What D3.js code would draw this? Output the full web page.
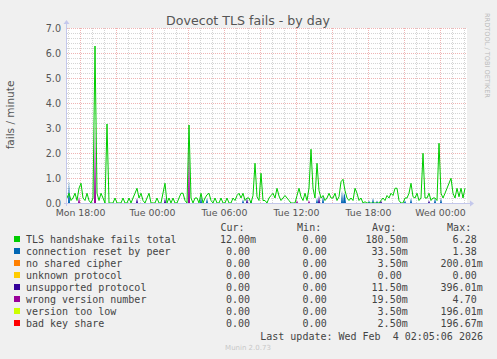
<!DOCTYPE html>
<html><head><meta charset="utf-8">
<script src="https://cdn.jsdelivr.net/npm/d3@7"></script>
<style>body{margin:0;background:#f0f0f0;overflow:hidden}</style>
</head><body><svg id="c" width="497" height="359"></svg>
<script>
const title = "Dovecot TLS fails - by day";
const yLabel = "fails / minute";
const xTickLabels = ["Mon 18:00","Tue 00:00","Tue 06:00","Tue 12:00","Tue 18:00","Wed 00:00"];
const yTickValues = [0,1,2,3,4,5,6,7];
const seriesNames = ["TLS handshake fails total","connection reset by peer","no shared cipher","unknown protocol","unsupported protocol","wrong version number","version too low","bad key share"];
const seriesColors = ["#00cc00","#0066b3","#ff8000","#ffcc00","#330099","#990099","#ccff00","#ff0000"];
const curVals = ["12.00m","0.00","0.00","0.00","0.00","0.00","0.00","0.00"];
const minVals = ["0.00","0.00","0.00","0.00","0.00","0.00","0.00","0.00"];
const avgVals = ["180.50m","33.50m","3.50m","0.00","11.50m","19.50m","3.50m","2.50m"];
const maxVals = ["6.28","1.38","200.01m","0.00","396.01m","4.70","196.01m","196.67m"];
const lastUpdate = "Last update: Wed Feb  4 02:05:06 2026";
const footer = "Munin 2.0.73";
const sideText = "RRDTOOL / TOBI OETIKER";

// TLS handshake fails total, 10-minute samples from Mon 16:55 UTC
const totalVals = [
0.2,0.39,0.1,0.2,0.39,0.1,0.59,0.79,0.2,0.1,
0.39,0.1,0,0.2,6.28,0.39,0.1,0.39,0.2,0,
3.16,0,0,0,0.2,0,0,0,0.2,0,
0,0.2,0,0.2,0.39,0.59,0.2,0.39,0.1,0,
0.2,0.39,0,0,0,0.2,0,0,0.4,0.79,
0,0.2,0,0.2,0,0,0.2,0.39,0.39,0.1,
0,3.12,0.2,0,0.2,0.2,0,0.39,0,0.2,
0.33,0.39,0.1,0,0.2,0,0,0.2,0,0,
0.2,0,0,0.2,0.1,0.3,0.39,0.2,0.39,0.1,
0.2,0.2,0,0.3,1.59,0.25,0.1,1.19,0.1,0.1,
0,0.2,0.3,0.39,0.2,0.59,0.28,0.1,0.2,0.3,
0.2,0.1,0,0,0,0.3,0.59,0.25,0.1,0.39,
0.1,0.6,2.15,0.59,0.2,1.59,0.5,0.2,0.3,0.1,
0.2,0.39,0.2,0.2,0.39,0.1,0.25,0.85,0.95,0.5,
0.2,0.1,0.2,0.1,0.59,0.39,0.1,0.2,0,0.05,
0,0,0,0,0,0,0,0.1,0.2,0.1,
0.3,0.2,0.39,0.3,0.59,0.59,0.1,0,0,0.2,
0.2,0.39,0.79,0.25,0.2,0.39,0.1,0.2,1.99,0.2,
0.2,0.39,0.1,0.2,0.2,0.1,2.39,0.39,0.2,0.39,
0.59,0.79,0.99,0.39,0.2,0.59,0.25,0.59,0.2,0.59];
// sub-series readings on the 5-minute grid: [sample index, value]
const resetPeaks = [[2,0.9],[134,0.3],[140,0.2],[176,0.15],[184,0.1],[250,0.2],[256,0.3],[275,0.5],[277,0.4],[278,0.3],[302,0.1],[306,0.2],[310,0.1],[338,0.1],[344,0.2],[368,0.2],[374,0.2]];
const unsupportedPeaks = [[70,0.2],[98,0.2],[180,0.2],[252,0.3],[314,0.1],[362,0.1]];
const wrongVersionPeaks = [[12,0.25],[28,3.2],[122,2.5],[230,0.1],[242,0.1]];

const svg = d3.select("#c");
const W = 497, H = 359;
const L = 67, R = 467, T = 28, B = 203;
const start = Date.UTC(2026,1,2,16,55);
const step5 = 5*60000;
const end = start + 400*step5;
const x = d3.scaleUtc().domain([start,end]).range([L,R]);
const y = d3.scaleLinear().domain([0,7]).range([B,T]);
const times = totalVals.map((d,i)=>new Date(start + i*2*step5));

svg.append("rect").attr("width",W).attr("height",H).attr("fill","#f0f0f0");
svg.append("rect").attr("x",L).attr("y",T).attr("width",R-L).attr("height",B-T).attr("fill","#ffffff");

// grid
const g = svg.append("g");
const hour = 3600000;
const minorC = "#d4d4d4", majorC = "#efb4b4";
d3.range(0, 7.01, 0.2).forEach(v=>{
  if (v < 0.01) return;
  const major = Math.abs(v - Math.round(v)) < 0.01;
  if (major) return;
  const yy = Math.round(y(v)) + 0.5;
  g.append("line").attr("x1",L).attr("x2",R).attr("y1",yy).attr("y2",yy).attr("stroke",minorC).attr("stroke-dasharray","1,1");
});
for (let t = Date.UTC(2026,1,2,17); t < end; t += hour) {
  if ((new Date(t)).getUTCHours() % 3 === 0) continue;
  const xx = Math.round(x(t)) + 0.5;
  g.append("line").attr("x1",xx).attr("x2",xx).attr("y1",T).attr("y2",B).attr("stroke",minorC).attr("stroke-dasharray","1,1");
}
for (let t = Date.UTC(2026,1,2,18); t < end; t += 3*hour) {
  const xx = Math.round(x(t)) + 0.5;
  g.append("line").attr("x1",xx).attr("x2",xx).attr("y1",T).attr("y2",B).attr("stroke",majorC).attr("stroke-dasharray","1,1");
}
yTickValues.slice(1).forEach(v=>{
  const yy = Math.round(y(v)) + 0.5;
  g.append("line").attr("x1",L).attr("x2",R).attr("y1",yy).attr("y2",yy).attr("stroke",majorC).attr("stroke-dasharray","1,1");
});

// stacked sub-series (5-minute samples)
function fill(peaks){ const a = d3.range(400).map(()=>0); peaks.forEach(([i,v])=>a[i]=v); return a; }
const reset = fill(resetPeaks), unsup = fill(unsupportedPeaks), wrong = fill(wrongVersionPeaks);
const table = d3.range(400).map(i=>({t:new Date(start + i*step5), reset:reset[i], unsup:unsup[i], wrong:wrong[i]}));
const stack = d3.stack().keys(["reset","unsup","wrong"])(table);
const stackColors = {reset:"#0066b3", unsup:"#330099", wrong:"#990099"};
const area = d3.area().x(d=>x(d.data.t)).y0(d=>y(d[0])).y1(d=>y(d[1]));
stack.forEach(s=>{
  svg.append("path").datum(s).attr("d",area).attr("fill",stackColors[s.key]).attr("stroke","none");
});

// total line
const line = d3.line().x((d,i)=>x(times[i])).y(d=>y(d));
svg.append("path").datum(totalVals).attr("d",line).attr("fill","none").attr("stroke","#00cc00").attr("stroke-width",1);

// axes lines with arrows
const axc = "#c4c8ec";
svg.append("line").attr("x1",L-3).attr("x2",R+3).attr("y1",B+0.5).attr("y2",B+0.5).attr("stroke",axc);
svg.append("path").attr("d",`M${R+3},${B-2.5} L${R+7},${B+0.5} L${R+3},${B+3.5} Z`).attr("fill",axc);
svg.append("line").attr("x1",L-0.5).attr("x2",L-0.5).attr("y1",B+3).attr("y2",T-4).attr("stroke",axc);
svg.append("path").attr("d",`M${L-3.5},${T-4} L${L-0.5},${T-8} L${L+2.5},${T-4} Z`).attr("fill",axc);

// y axis labels
const yAxis = d3.axisLeft(y).tickValues(yTickValues).tickFormat(d3.format(".1f")).tickSize(0).tickPadding(0);
const ya = svg.append("g").attr("transform",`translate(${L-6},0)`).call(yAxis);
ya.select(".domain").remove();
ya.selectAll("text").attr("font-family","DejaVu Sans").attr("font-size","9.6px").attr("fill","#555").attr("dy","0.35em");

// x axis labels
const xTicks = xTickLabels.map((s,i)=>new Date(Date.UTC(2026,1,2,18) + i*6*hour));
const xAxis = d3.axisBottom(x).tickValues(xTicks).tickFormat((d,i)=>xTickLabels[i]).tickSize(0).tickPadding(0);
const xa = svg.append("g").attr("transform",`translate(0,${B+13})`).call(xAxis);
xa.select(".domain").remove();
xa.selectAll("text").attr("font-family","DejaVu Sans").attr("font-size","9.4px").attr("fill","#555").attr("dy","0");

// title
svg.append("text").attr("x",248).attr("y",25).attr("text-anchor","middle")
  .attr("font-family","DejaVu Sans").attr("font-size","12.6px").attr("fill","#555").text(title);
// y label
svg.append("text").attr("transform","translate(14,115) rotate(-90)").attr("text-anchor","middle")
  .attr("font-family","DejaVu Sans").attr("font-size","10.5px").attr("fill","#555").text(yLabel);
// side text
svg.append("text").attr("transform","translate(485,13) rotate(90)").attr("text-anchor","start")
  .attr("font-family","DejaVu Sans").attr("font-size","6.6px").attr("fill","#bbb").text(sideText);

// legend
const mono = "DejaVu Sans Mono", fs = "10px", lc = "#444";
const headerY = 231;
const cols = [{h:"Cur:",x:250,v:curVals},{h:"Min:",x:326.7,v:minVals},{h:"Avg:",x:401.7,v:avgVals},{h:"Max:",x:476.7,v:maxVals}];
cols.forEach(c=>{
  svg.append("text").attr("x",c.x-5.5).attr("y",headerY).attr("text-anchor","end")
    .attr("font-family",mono).attr("font-size",fs).attr("fill",lc).text(c.h);
});
seriesNames.forEach((n,i)=>{
  const yy = 243 + i*12;
  svg.append("rect").attr("x",14).attr("y",yy-7).attr("width",6).attr("height",6).attr("fill",seriesColors[i]);
  svg.append("text").attr("x",26).attr("y",yy).attr("font-family",mono).attr("font-size",fs).attr("fill",lc).text(n);
  cols.forEach(c=>{
    let s = c.v[i], suf = "";
    if (s.endsWith("m")) { suf = "m"; s = s.slice(0,-1); }
    svg.append("text").attr("x",c.x).attr("y",yy).attr("text-anchor","end")
      .attr("font-family",mono).attr("font-size",fs).attr("fill",lc).text(s);
    if (suf) svg.append("text").attr("x",c.x).attr("y",yy)
      .attr("font-family",mono).attr("font-size",fs).attr("fill",lc).text(suf);
  });
});
svg.append("text").attr("x",483).attr("y",339.5).attr("text-anchor","end")
  .attr("font-family",mono).attr("font-size",fs).attr("fill",lc).attr("xml:space","preserve").style("white-space","pre").text(lastUpdate);
svg.append("text").attr("x",248).attr("y",350).attr("text-anchor","middle")
  .attr("font-family","DejaVu Sans").attr("font-size","7px").attr("fill","#c8c8c8").text(footer);
</script></body></html>
